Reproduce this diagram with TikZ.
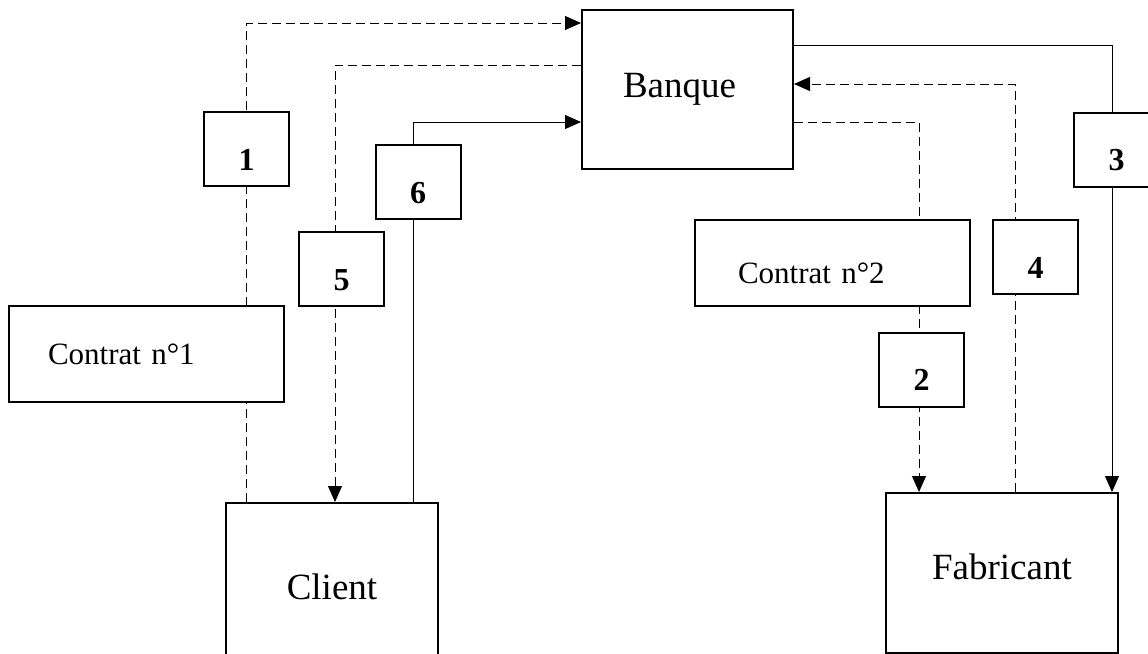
\documentclass[tikz,border=0pt]{standalone}
\usepackage{fontspec}
\setmainfont{Liberation Serif}
\usetikzlibrary{arrows.meta,backgrounds}

\tikzset{
  bloc/.style={draw, line width=1pt, fill=white, inner sep=0pt},
  acteur/.style={bloc, font=\fontsize{18.5}{22}\selectfont},
  contrat/.style={bloc, font=\fontsize{15.5}{18}\selectfont, align=left},
  etape/.style={bloc, font=\bfseries\fontsize{16}{18}\selectfont,
    minimum width=42.5pt, minimum height=37pt, text height=21pt, text depth=0pt},
  flux/.style={line width=0.5pt, -{Triangle[length=8pt,width=7pt]}},
  pointille/.style={flux, dash pattern=on 4.5pt off 2.5pt},
}

\begin{document}
\begin{tikzpicture}[x=0.5pt, y=-0.5pt]
  \useasboundingbox (0,0) rectangle (1148,654);
  \clip (0,0) rectangle (1148,654);

  % acteurs
  \node[acteur, text width=64.5pt, inner xsep=20.5pt, minimum height=79.5pt, align=left] (banque) at (687.5,89.5) {Banque};
  \node[acteur, minimum width=106pt, minimum height=83.5pt] (client) at (332,586.5) {Client};
  \node[acteur, minimum width=116pt, minimum height=80pt, text height=12.6pt, text depth=6pt] (fabricant) at (1002,573) {Fabricant};

  % contrats
  \node[contrat, text width=98.5pt, inner xsep=19.5pt, minimum height=48pt] (contrat1) at (146.5,354) {Contrat n°1};
  \node[contrat, text width=94.5pt, inner xsep=21.5pt, minimum height=43pt, text height=20.6pt, text depth=0pt] (contrat2) at (832.5,263) {Contrat n°2};

  % etapes
  \node[etape] (n1) at (246.5,149) {1};
  \node[etape] (n2) at (921.5,369.5) {2};
  \node[etape] (n3) at (1116.5,149.5) {3};
  \node[etape] (n4) at (1035.5,257) {4};
  \node[etape] (n5) at (341.5,269) {5};
  \node[etape] (n6) at (418,182) {6};

  % flux
  \begin{scope}[on background layer]
    \draw[pointille] (client.north -| n1) |- ([yshift=-7pt]banque.north west);
    \draw[pointille] ([yshift=-28pt]banque.north west) -| ([xshift=55pt]client.north west);
    \draw[flux] ([xshift=94pt]client.north west) |- ([yshift=-56.5pt]banque.north west);
    \draw[pointille] ([yshift=-56.5pt]banque.north east) -| ([xshift=17pt]fabricant.north west);
    \draw[pointille] ([xshift=65pt]fabricant.north west) |- ([yshift=-37.5pt]banque.north east);
    \draw[flux] ([yshift=-18pt]banque.north east) -| ([xshift=113.5pt]fabricant.north west);
  \end{scope}
\end{tikzpicture}
\end{document}
